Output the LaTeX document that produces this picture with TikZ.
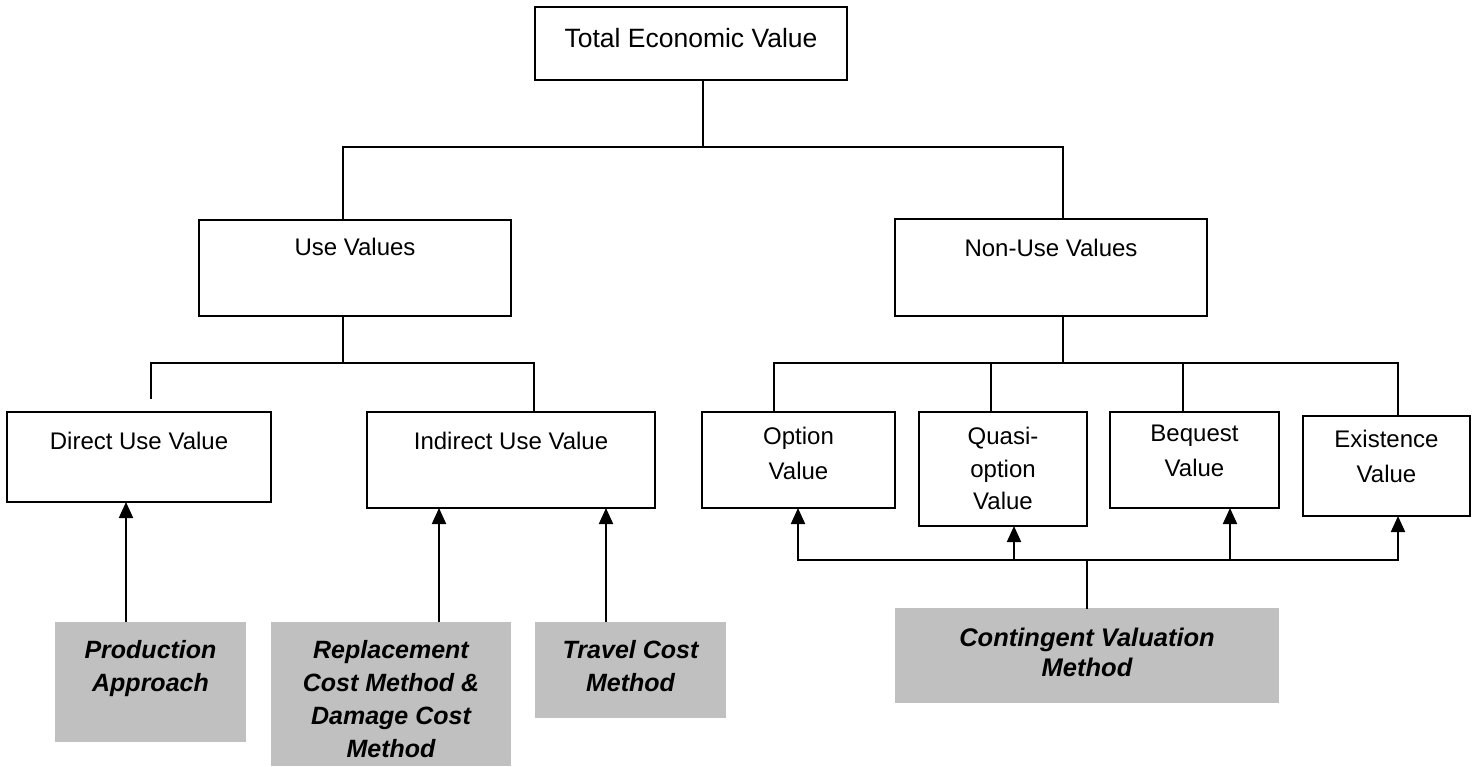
\documentclass[tikz,border=0pt]{standalone}
\usepackage{fontspec}
\setmainfont{Liberation Sans}
\usetikzlibrary{arrows.meta}
\definecolor{methodgray}{HTML}{C0C0C0}
\begin{document}
\begin{tikzpicture}[x=1pt,y=-1pt,
  box/.style={draw=black, line width=2pt, fill=white, inner sep=0pt, outer sep=0pt},
  gbox/.style={fill=methodgray, draw=none, inner sep=0pt, outer sep=0pt},
  txt/.style={inner sep=0pt, anchor=north, align=center, font=\fontsize{24}{35}\selectfont},
  toptxt/.style={txt, font=\fontsize{26.5}{35}\selectfont},
  qtxt/.style={txt, font=\fontsize{24}{32.5}\selectfont},
  gtxt/.style={inner sep=0pt, anchor=north, align=center, font=\fontsize{25}{33}\selectfont\bfseries\itshape},
  ctxt/.style={gtxt, font=\fontsize{25.5}{30}\selectfont\bfseries\itshape},
  conn/.style={line width=2pt, line cap=rect},
  arr/.style={line width=2pt, -{Triangle[width=14pt,length=16pt]}}
]
\useasboundingbox (0,0) rectangle (1478,767);

% value boxes
\node[box, minimum width=312pt, minimum height=73pt] (tev) at (691,43.5) {};
\node[box, minimum width=312pt, minimum height=96pt] (use) at (355,268) {};
\node[box, minimum width=312pt, minimum height=97pt] (non) at (1051,267.5) {};
\node[box, minimum width=264pt, minimum height=90pt] (dir) at (139,457) {};
\node[box, minimum width=288pt, minimum height=96pt] (ind) at (511,460) {};
\node[box, minimum width=193pt, minimum height=96pt] (opt) at (798.5,460) {};
\node[box, minimum width=168pt, minimum height=114pt] (qua) at (1003,469) {};
\node[box, minimum width=169pt, minimum height=96pt] (beq) at (1194.5,460) {};
\node[box, minimum width=167pt, minimum height=100pt] (exi) at (1386.5,466) {};

% method boxes
\node[gbox, minimum width=191pt, minimum height=120pt] (pro) at (150.5,682) {};
\node[gbox, minimum width=240pt, minimum height=144pt] (rep) at (391,694) {};
\node[gbox, minimum width=191pt, minimum height=96pt] (tra) at (630.5,670) {};
\node[gbox, minimum width=384pt, minimum height=95pt] (cvm) at (1087,655.5) {};

% texts
\node[toptxt] (tevt) at (691,28) {Total Economic Value};
\node[txt] (uset) at (355,238) {Use Values};
\node[txt] (nont) at (1051,239) {Non-Use Values};
\node[txt] (dirt) at (139,432) {Direct Use Value};
\node[txt] (indt) at (511,432) {Indirect Use Value};
\node[txt] (optt) at (798.5,427) {Option\\Value};
\node[qtxt] (quat) at (1003,427) {Quasi-\\option\\Value};
\node[txt] (beqt) at (1194.5,425) {Bequest\\Value};
\node[txt] (exit) at (1386.5,430) {Existence\\Value};
\node[gtxt] (prot) at (150.5,640) {Production\\Approach};
\node[gtxt] (rept) at (391,640) {Replacement\\Cost Method \&\\Damage Cost\\Method};
\node[gtxt] (trat) at (630.5,640) {Travel Cost\\Method};
\node[ctxt] (cvmt) at (1087,628) {Contingent Valuation\\Method};

% junction coordinates
\coordinate (h1m) at (703,147);
\coordinate (h1l) at (343,147);
\coordinate (h1r) at (1063,147);
\coordinate (h2m) at (343,363);
\coordinate (h2l) at (151,363);
\coordinate (h2r) at (534,363);
\coordinate (dstub) at (151,398);
\coordinate (h3m) at (1063,363);
\coordinate (h3a) at (774,363);
\coordinate (h3b) at (991,363);
\coordinate (h3c) at (1183,363);
\coordinate (h3d) at (1398,363);
\coordinate (h4a) at (798,560);
\coordinate (h4b) at (1014,560);
\coordinate (h4c) at (1230,560);
\coordinate (h4d) at (1398,560);
\coordinate (a1) at (126,0);
\coordinate (a2) at (439,0);
\coordinate (a3) at (606,0);

% tree connectors
\draw[conn] (tev.south -| h1m) -- (h1m);
\draw[conn] (use.north -| h1l) -- (h1l) -- (h1r) -- (non.north -| h1r);
\draw[conn] (use.south -| h2m) -- (h2m);
\draw[conn] (dstub) -- (h2l) -- (h2r) -- (ind.north -| h2r);
\draw[conn] (non.south -| h3m) -- (h3m);
\draw[conn] (opt.north -| h3a) -- (h3a) -- (h3d) -- (exi.north -| h3d);
\draw[conn] (h3b) -- (qua.north -| h3b);
\draw[conn] (h3c) -- (beq.north -| h3c);

% method arrows
\draw[arr] (pro.north -| a1) -- (dir.south -| a1);
\draw[arr] (rep.north -| a2) -- (ind.south -| a2);
\draw[arr] (tra.north -| a3) -- (ind.south -| a3);
\draw[conn] (cvm.north) -- (cvm.north |- h4a);
\draw[conn] (h4a) -- (h4d);
\draw[arr] (h4a) -- (opt.south -| h4a);
\draw[arr] (h4b) -- (qua.south -| h4b);
\draw[arr] (h4c) -- (beq.south -| h4c);
\draw[arr] (h4d) -- (exi.south -| h4d);
\end{tikzpicture}
\end{document}
